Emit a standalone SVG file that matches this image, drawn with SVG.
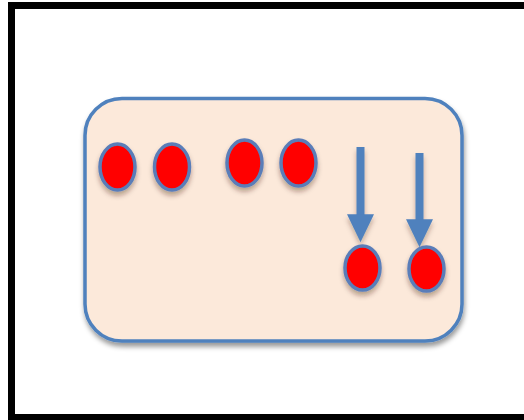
<svg xmlns="http://www.w3.org/2000/svg" width="524" height="420" viewBox="0 0 524 420">
  <defs>
    <filter id="sh" x="-20%" y="-20%" width="140%" height="150%">
      <feDropShadow dx="1" dy="4" stdDeviation="2.5" flood-color="#000" flood-opacity="0.4"/>
    </filter>
    <filter id="sh2" x="-40%" y="-30%" width="180%" height="170%">
      <feDropShadow dx="0" dy="4" stdDeviation="2.5" flood-color="#3a1a00" flood-opacity="0.35"/>
    </filter>
    <filter id="sh3" filterUnits="userSpaceOnUse" x="0" y="0" width="524" height="420">
      <feDropShadow dx="0" dy="4" stdDeviation="2.5" flood-color="#3a1a00" flood-opacity="0.3"/>
    </filter>
    <marker id="ah" viewBox="0 0 10 10" refX="1" refY="5" markerWidth="28" markerHeight="27" markerUnits="userSpaceOnUse" orient="auto" preserveAspectRatio="none">
      <path d="M0,0 L10,5 L0,10 z" fill="#4F81BD"/>
    </marker>
    <style>
      .dot { fill: #FF0000; stroke: #5A7DB8; stroke-width: 3.5; filter: url(#sh2); }
      .arr { stroke: #4F81BD; stroke-width: 8; fill: none; marker-end: url(#ah); }
    </style>
  </defs>
  <rect x="0" y="0" width="524" height="420" fill="#FFFFFF"/>
  <rect id="frame" x="11.5" y="5.5" width="522" height="412" fill="none" stroke="#000000" stroke-width="7"/>
  <g id="panel">
    <rect x="85" y="98.5" width="377" height="242.5" rx="37" ry="37" fill="#FCE9DA" stroke="#4F81BD" stroke-width="3.5" filter="url(#sh)"/>
  </g>
  <g id="dot1"><ellipse class="dot" cx="117.5" cy="167" rx="17.5" ry="23"/></g>
  <g id="dot2"><ellipse class="dot" cx="172" cy="167" rx="17.5" ry="23"/></g>
  <g id="dot3"><ellipse class="dot" cx="244.5" cy="163" rx="17.5" ry="23"/></g>
  <g id="dot4"><ellipse class="dot" cx="298.5" cy="163" rx="17.5" ry="23"/></g>
  <g id="connectors" filter="url(#sh3)">
    <line class="arr" x1="360.5" y1="147" x2="360.5" y2="217"/>
    <line class="arr" x1="419.5" y1="153" x2="419.5" y2="222"/>
  </g>
  <g id="dot5"><ellipse class="dot" cx="362.5" cy="268" rx="17.5" ry="22"/></g>
  <g id="dot6"><ellipse class="dot" cx="426.5" cy="269" rx="17.5" ry="22"/></g>
</svg>
